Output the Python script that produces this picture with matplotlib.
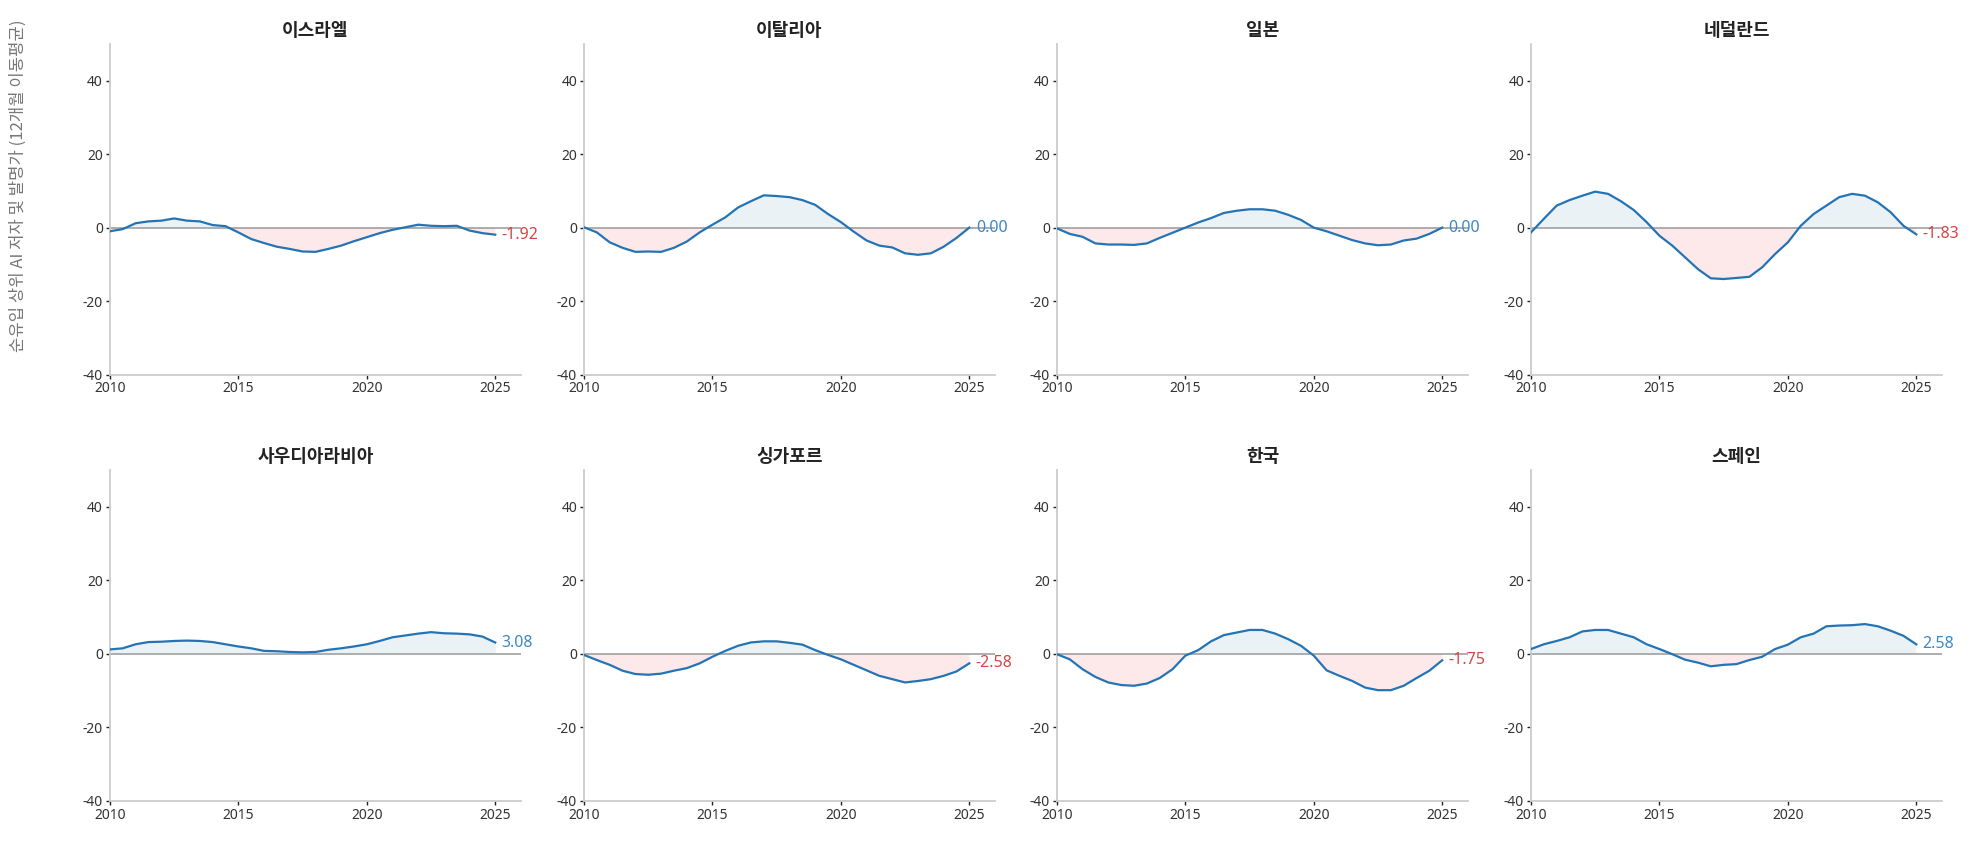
import numpy as np
import matplotlib
matplotlib.use("Agg")
import matplotlib.pyplot as plt

plt.rcParams['font.family'] = ['Noto Sans CJK KR', 'DejaVu Sans']
plt.rcParams['axes.unicode_minus'] = False

# half-year steps, 2010.0 .. 2025.0
years = np.arange(2010, 2025.01, 0.5)

countries = ['이스라엘', '이탈리아', '일본', '네덜란드',
             '사우디아라비아', '싱가포르', '한국', '스페인']

israel = [-1.0, -0.4, 1.2, 1.7, 1.9, 2.5, 1.9, 1.7, 0.7, 0.4, -1.3, -3.1, -4.2, -5.2, -5.8, -6.5,
          -6.6, -5.8, -4.9, -3.7, -2.6, -1.5, -0.6, 0.1, 0.8, 0.5, 0.4, 0.5, -0.8, -1.5, -1.92]
italy = [0.1, -1.3, -4.0, -5.5, -6.6, -6.5, -6.6, -5.5, -3.8, -1.3, 0.8, 2.8, 5.5, 7.2, 8.8, 8.6,
         8.3, 7.5, 6.2, 3.7, 1.5, -1.1, -3.5, -4.9, -5.4, -7.0, -7.4, -7.0, -5.2, -2.8, 0.0]
japan = [-0.2, -1.7, -2.5, -4.3, -4.6, -4.6, -4.7, -4.3, -2.8, -1.4, 0.0, 1.4, 2.6, 4.0, 4.6, 5.0,
         5.0, 4.6, 3.5, 2.1, 0.0, -1.0, -2.2, -3.4, -4.3, -4.8, -4.6, -3.5, -3.0, -1.7, 0.0]
netherlands = [-1.3, 2.4, 6.0, 7.5, 8.7, 9.8, 9.2, 7.2, 4.8, 1.5, -2.2, -4.9, -8.1, -11.3, -13.8, -14.0,
               -13.7, -13.4, -10.8, -7.2, -4.0, 0.5, 3.7, 6.0, 8.3, 9.2, 8.7, 6.9, 4.2, 0.5, -1.83]
saudi = [1.2, 1.5, 2.6, 3.2, 3.3, 3.5, 3.6, 3.5, 3.2, 2.6, 2.0, 1.5, 0.8, 0.7, 0.5, 0.4,
         0.5, 1.1, 1.5, 2.0, 2.6, 3.5, 4.5, 5.0, 5.5, 5.9, 5.6, 5.5, 5.3, 4.7, 3.08]
singapore = [-0.3, -1.7, -3.0, -4.6, -5.5, -5.7, -5.4, -4.6, -3.9, -2.6, -0.8, 0.8, 2.2, 3.1, 3.4, 3.4,
             3.0, 2.5, 1.0, -0.3, -1.5, -3.0, -4.5, -6.0, -6.9, -7.8, -7.4, -6.9, -6.0, -4.8, -2.58]
korea = [-0.1, -1.5, -4.2, -6.3, -7.8, -8.5, -8.7, -8.1, -6.6, -4.2, -0.5, 1.0, 3.4, 5.1, 5.8, 6.5,
         6.5, 5.5, 4.0, 2.2, -0.5, -4.5, -6.0, -7.4, -9.2, -9.9, -9.9, -8.7, -6.6, -4.6, -1.75]
spain = [1.3, 2.6, 3.5, 4.5, 6.1, 6.5, 6.5, 5.5, 4.5, 2.6, 1.3, -0.1, -1.6, -2.4, -3.4, -3.0,
         -2.8, -1.7, -0.8, 1.3, 2.5, 4.5, 5.5, 7.5, 7.7, 7.8, 8.1, 7.5, 6.3, 4.9, 2.58]

series = [israel, italy, japan, netherlands, saudi, singapore, korea, spain]

line_color = '#2474b5'
pos_fill = '#eaf2f6'
neg_fill = '#fde9e9'
pos_text = '#3d88c2'
neg_text = '#d64545'

fig = plt.figure(figsize=(19.77, 8.5), dpi=100)

lefts = [0.0556, 0.2954, 0.5346, 0.7744]
bottoms = [0.5594, 0.058]
w, h = 0.2079, 0.3888

for i, (name, vals) in enumerate(zip(countries, series)):
    ax = fig.add_axes([lefts[i % 4], bottoms[i // 4], w, h])
    y = np.array(vals)
    ax.fill_between(years, y, 0, where=y >= 0, interpolate=True, color=pos_fill, lw=0)
    ax.fill_between(years, y, 0, where=y <= 0, interpolate=True, color=neg_fill, lw=0)
    ax.axhline(0, color='#999999', lw=1.1, zorder=2)
    ax.plot(years, y, color=line_color, lw=1.6, zorder=3)

    last = y[-1]
    ax.text(years[-1] + 0.25, last, f'{last:.2f}', va='center', ha='left', fontsize=11.5,
            color=pos_text if last >= 0 else neg_text, family=['Noto Sans', 'DejaVu Sans'])

    ax.set_xlim(2010, 2026)
    ax.set_ylim(-40, 50)
    ax.set_xticks([2010, 2015, 2020, 2025])
    ax.set_yticks([-40, -20, 0, 20, 40])
    ax.tick_params(length=3, width=1, color='#222222', labelsize=10, labelcolor='#333333', pad=2)
    for lbl in ax.get_xticklabels() + ax.get_yticklabels():
        lbl.set_family(['Noto Sans', 'DejaVu Sans'])
    for side in ['top', 'right']:
        ax.spines[side].set_visible(False)
    for side in ['left', 'bottom']:
        ax.spines[side].set_color('#cccccc')
        ax.spines[side].set_linewidth(1.3)
    ax.set_title(name, fontsize=13, fontweight='bold', color='#222222', pad=6)

fig.text(0.0091, 0.782, '순유입 상위 AI 저자 및 발명가 (12개월 이동평균)', rotation=90,
         ha='center', va='center', fontsize=12, color='#777777')

fig.savefig('out.png', dpi=100)
